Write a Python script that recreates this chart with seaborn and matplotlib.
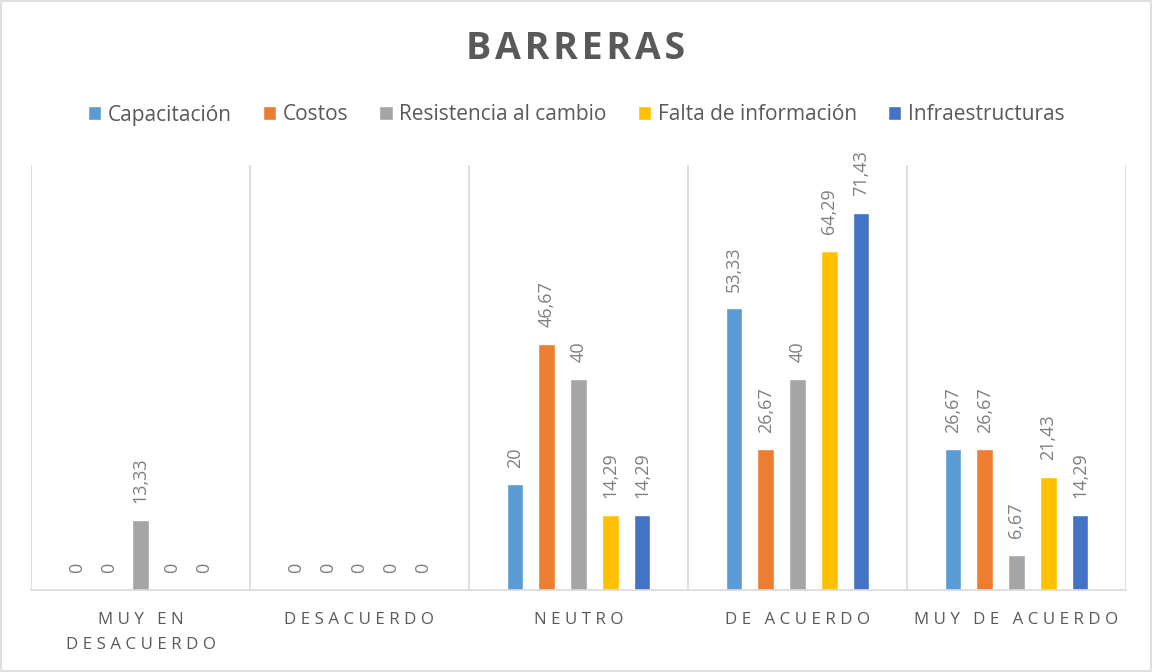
import pandas as pd
import seaborn as sns
import matplotlib.pyplot as plt
import matplotlib as mpl
from matplotlib.patches import Rectangle

categories = ["MUY EN\nDESACUERDO", "DESACUERDO", "NEUTRO", "DE ACUERDO", "MUY DE ACUERDO"]
series = ["Capacitación", "Costos", "Resistencia al cambio", "Falta de información", "Infraestructuras"]
capacitacion = [0, 0, 20, 53.33, 26.67]
costos = [0, 0, 46.67, 26.67, 26.67]
resistencia = [13.33, 0, 40, 40, 6.67]
falta_info = [0, 0, 14.29, 64.29, 21.43]
infraestructuras = [0, 0, 14.29, 71.43, 14.29]

colors = ["#5B9BD5", "#ED7D31", "#A5A5A5", "#FFC000", "#4472C4"]

sns.set_style("white")
mpl.rc('font', family=['Open Sans', 'DejaVu Sans'])

rows = []
for name, vals in zip(series, [capacitacion, costos, resistencia, falta_info, infraestructuras]):
    for cat, v in zip(categories, vals):
        rows.append({"cat": cat, "serie": name, "valor": v})
df = pd.DataFrame(rows)

fig = plt.figure(figsize=(11.52, 6.72), dpi=100)
ax = fig.add_axes([31/1152, 82/672, 1095/1152, 425/672])

sns.barplot(data=df, x="cat", y="valor", hue="serie", order=categories, hue_order=series,
            palette=colors, width=0.725, gap=0.48, errorbar=None, ax=ax, saturation=1)

for cont in ax.containers:
    labels = [f"{b.get_height():g}".replace(".", ",") for b in cont]
    ax.bar_label(cont, labels=labels, rotation=90, padding=12, fontsize=13, color="#7F7F7F")

ax.set_ylim(0, 80.5)
ax.set_xlim(-0.5, 4.5)
ax.set_yticks([])
ax.set_xlabel("")
ax.set_ylabel("")

# letter-spaced tick labels like the Excel original
spaced = ["\n".join("\u2009\u200a".join(line) for line in c.split("\n")) for c in categories]
ax.set_xticks(range(len(categories)))
ax.set_xticklabels(spaced, fontsize=12.2, color="#595959", linespacing=1.75)
ax.tick_params(axis="x", length=0, pad=16)
ax.set_xticks([i - 0.5 for i in range(len(categories) + 1)], minor=True)
ax.tick_params(axis="x", which="minor", length=0)
ax.grid(axis="x", which="minor", color="#D9D9D9", linewidth=1.2)
ax.set_axisbelow(True)

for s in ["top", "left", "right"]:
    ax.spines[s].set_visible(False)
ax.spines["bottom"].set_color("#D9D9D9")
ax.spines["bottom"].set_linewidth(1.2)

handles, labs = ax.get_legend_handles_labels()
ax.legend(handles, labs, loc="center", bbox_to_anchor=(0.5, 1 - 115/672), bbox_transform=fig.transFigure,
          ncol=5, frameon=False, fontsize=15, handlelength=0.65, handleheight=0.65, handletextpad=0.3,
          columnspacing=1.5, labelcolor="#595959")

fig.text(0.5, 1 - 49/672, "\u200a".join("BARRERAS"), ha="center", va="center",
         fontsize=27, fontweight="bold", color="#595959")

fig.patches.append(Rectangle((0.001, 0.001), 0.998, 0.997, transform=fig.transFigure, fill=False,
                             edgecolor="#D9D9D9", linewidth=1.2))

plt.savefig("out.png", dpi=100)
plt.close()
